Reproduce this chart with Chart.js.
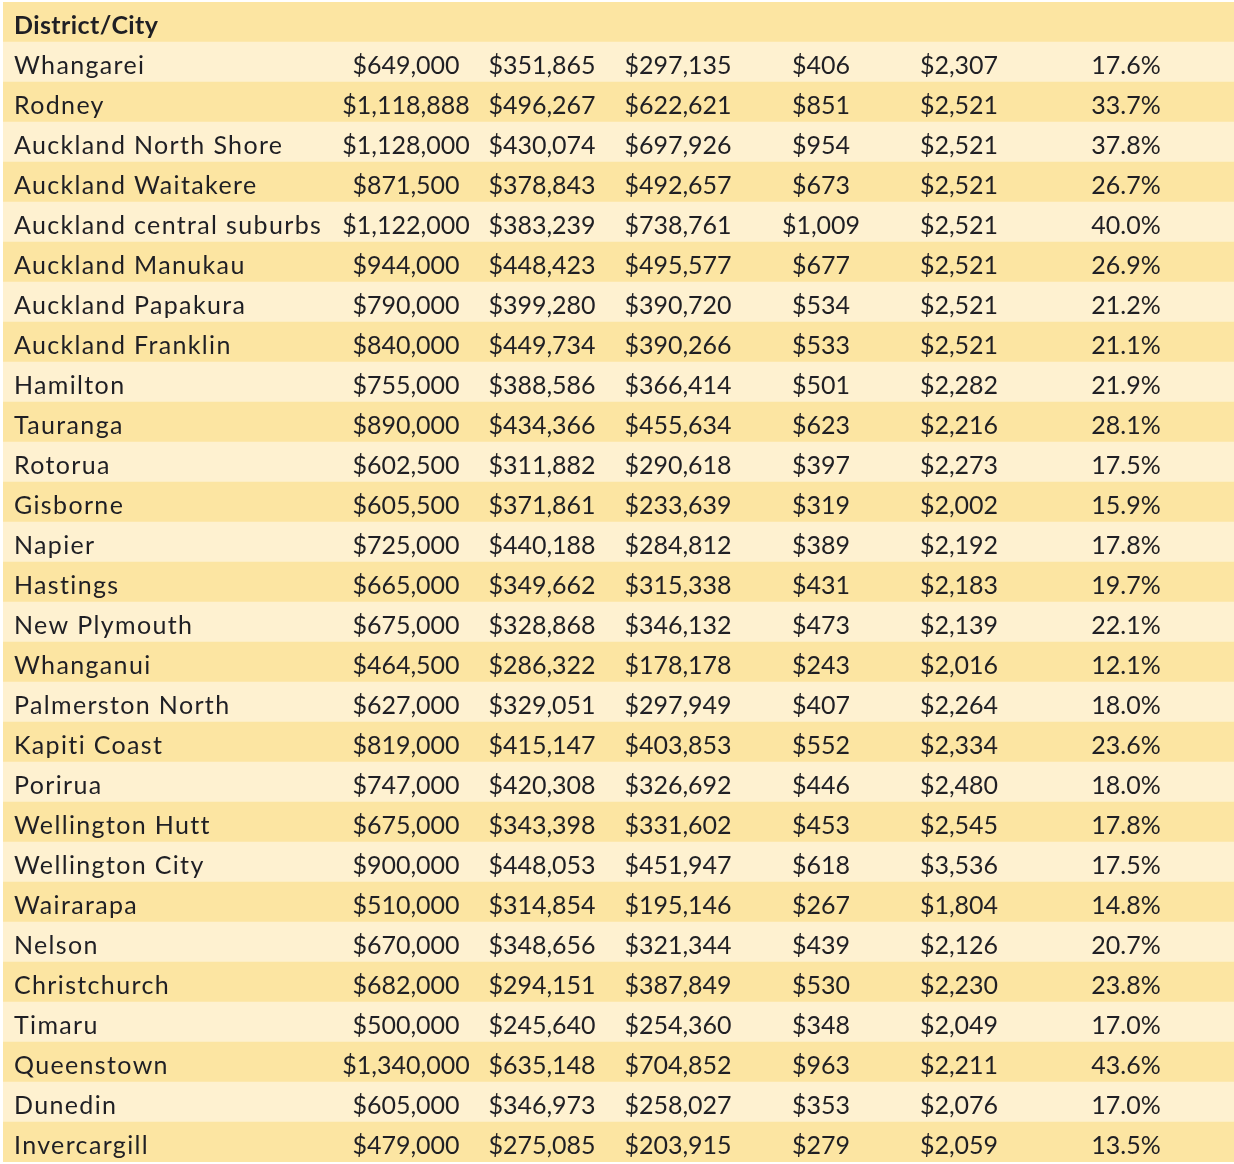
<!DOCTYPE html>
<html>
<head>
<meta charset="utf-8">
<script src="https://cdn.jsdelivr.net/npm/chart.js@4.4.0/dist/chart.umd.min.js"></script>
<style>
    html, body { margin: 0; padding: 0; background: #fff; }
    #wrap { width: 1234px; height: 1164px; }
</style>
</head>
<body>
<div id="wrap"><canvas id="districtTable" width="1234" height="1164"></canvas></div>
<script>
// 表格資料
const headerLabel = "District/City";
const districts = [
    "Whangarei", "Rodney", "Auckland North Shore", "Auckland Waitakere",
    "Auckland central suburbs", "Auckland Manukau", "Auckland Papakura",
    "Auckland Franklin", "Hamilton", "Tauranga", "Rotorua", "Gisborne",
    "Napier", "Hastings", "New Plymouth", "Whanganui", "Palmerston North",
    "Kapiti Coast", "Porirua", "Wellington Hutt", "Wellington City",
    "Wairarapa", "Nelson", "Christchurch", "Timaru", "Queenstown",
    "Dunedin", "Invercargill"
];
const medianPrice = [
    649000, 1118888, 1128000, 871500, 1122000, 944000, 790000, 840000,
    755000, 890000, 602500, 605500, 725000, 665000, 675000, 464500,
    627000, 819000, 747000, 675000, 900000, 510000, 670000, 682000,
    500000, 1340000, 605000, 479000
];
const basePart = [
    351865, 496267, 430074, 378843, 383239, 448423, 399280, 449734,
    388586, 434366, 311882, 371861, 440188, 349662, 328868, 286322,
    329051, 415147, 420308, 343398, 448053, 314854, 348656, 294151,
    245640, 635148, 346973, 275085
];
const excessPart = [
    297135, 622621, 697926, 492657, 738761, 495577, 390720, 390266,
    366414, 455634, 290618, 233639, 284812, 315338, 346132, 178178,
    297949, 403853, 326692, 331602, 451947, 195146, 321344, 387849,
    254360, 704852, 258027, 203915
];
const weeklyCost = [
    406, 851, 954, 673, 1009, 677, 534, 533, 501, 623, 397, 319, 389, 431,
    473, 243, 407, 552, 446, 453, 618, 267, 439, 530, 348, 963, 353, 279
];
const weeklyIncome = [
    2307, 2521, 2521, 2521, 2521, 2521, 2521, 2521, 2282, 2216, 2273, 2002,
    2192, 2183, 2139, 2016, 2264, 2334, 2480, 2545, 3536, 1804, 2126, 2230,
    2049, 2211, 2076, 2059
];
const costShare = [
    17.6, 33.7, 37.8, 26.7, 40.0, 26.9, 21.2, 21.1, 21.9, 28.1, 17.5, 15.9,
    17.8, 19.7, 22.1, 12.1, 18.0, 23.6, 18.0, 17.8, 17.5, 14.8, 20.7, 23.8,
    17.0, 43.6, 17.0, 13.5
];

// 版面設定（x 軸單位 = 像素）
const tableWidth = 1231;
const nameX = 11;
const colCenters = [403, 539, 675, 818, 956, 1123];
const darkStripe = "#FCE5A2";
const lightStripe = "#FEF1D0";
const textColor = "#1f1f24";
const fontFamily = "Lato, 'Noto Sans', sans-serif";

const rowLabels = [headerLabel, ...districts];

const money = v => "$" + v.toLocaleString("en-US");
function rowCells(i) {
    return [
        money(medianPrice[i]), money(basePart[i]), money(excessPart[i]),
        money(weeklyCost[i]), money(weeklyIncome[i]), costShare[i].toFixed(1) + "%"
    ];
}

// 文字繪製
const cellText = {
    id: "cellText",
    afterDatasetsDraw(chart) {
        const { ctx, scales: { x, y } } = chart;
        const band = y.getPixelForValue(1) - y.getPixelForValue(0);
        ctx.save();
        ctx.fillStyle = textColor;
        ctx.textBaseline = "alphabetic";
        rowLabels.forEach((label, i) => {
            const base = y.getPixelForValue(i) + band / 2 - 8.5;
            ctx.font = (i === 0 ? "bold " : "") + "25px " + fontFamily;
            ctx.textAlign = "left";
            ctx.letterSpacing = i === 0 ? "0.4px" : "1.35px";
            ctx.fillText(label, x.getPixelForValue(nameX), base);
            ctx.letterSpacing = "0px";
            if (i === 0) return;
            ctx.textAlign = "center";
            rowCells(i - 1).forEach((t, c) => {
                ctx.fillText(t, x.getPixelForValue(colCenters[c]), base);
            });
        });
        ctx.restore();
    }
};

new Chart(document.getElementById("districtTable"), {
    type: "bar",
    data: {
        labels: rowLabels,
        datasets: [{
            data: rowLabels.map(() => [0, tableWidth]),
            backgroundColor: rowLabels.map((_, i) => i % 2 === 0 ? darkStripe : lightStripe),
            borderWidth: 0,
            barPercentage: 1,
            categoryPercentage: 1
        }]
    },
    options: {
        indexAxis: "y",
        responsive: false,
        animation: false,
        layout: { padding: { left: 3, right: 0, top: 2, bottom: 2 } },
        scales: {
            x: { type: "linear", min: 0, max: tableWidth, display: false },
            y: { display: false }
        },
        plugins: {
            legend: { display: false },
            tooltip: { enabled: false }
        }
    },
    plugins: [cellText]
});
</script>
</body>
</html>
